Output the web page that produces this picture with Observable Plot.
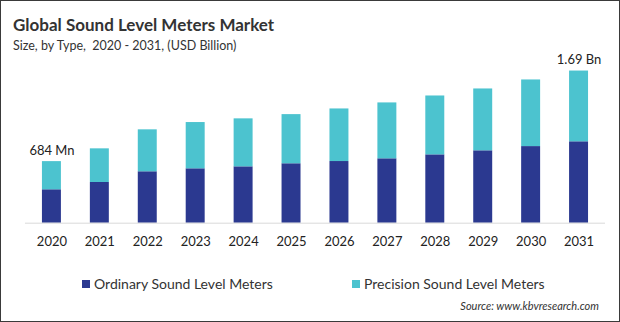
<!DOCTYPE html>
<html>
<head>
<meta charset="utf-8">
<script src="https://cdn.jsdelivr.net/npm/d3@7"></script>
<script src="https://cdn.jsdelivr.net/npm/@observablehq/plot@0.6"></script>
<style>
  html, body { margin: 0; padding: 0; background: #fff; }
  #frame { position: relative; width: 618px; height: 320px; border: 1px solid #3a3a3a; overflow: hidden; font-family: Lato, "Open Sans", sans-serif; color: #333; }
  #title { position: absolute; left: 12px; top: 13px; font-size: 17px; font-weight: bold; color: #333; white-space: nowrap; }
  #subtitle { position: absolute; left: 12px; top: 37px; font-size: 12.5px; color: #333; white-space: nowrap; }
  #chart { position: absolute; left: -1px; top: 39px; }
  #chart svg { overflow: visible; }
  .leg { position: absolute; top: 274px; font-size: 14px; color: #333; white-space: nowrap; display: flex; align-items: center; }
  .sw { width: 8px; height: 8px; display: inline-block; margin-right: 4px; }
  #source { position: absolute; right: 20px; top: 298px; font-size: 11px; font-style: italic; color: #333; }
</style>
</head>
<body>
<div id="frame">
  <div id="title">Global Sound Level Meters Market</div>
  <div id="subtitle">Size, by Type,&nbsp; 2020 - 2031, (USD Billion)</div>
  <div id="chart"></div>
  <div class="leg" style="left:81px"><span class="sw" style="background:#2b3990"></span>Ordinary Sound Level Meters</div>
  <div class="leg" style="left:351px"><span class="sw" style="background:#4cc3cf"></span>Precision Sound Level Meters</div>
  <div id="source">Source: www.kbvresearch.com</div>
</div>
<script>
const years = ["2020","2021","2022","2023","2024","2025","2026","2027","2028","2029","2030","2031"];
const ordinary  = [0.371,0.452,0.571,0.604,0.626,0.660,0.685,0.715,0.759,0.804,0.851,0.904];
const precision = [0.313,0.374,0.466,0.514,0.533,0.546,0.584,0.621,0.654,0.687,0.740,0.786];
const seriesNames = ["Ordinary Sound Level Meters","Precision Sound Level Meters"];
const seriesColors = ["#2b3990","#4cc3cf"];
const endLabels = ["684 Mn","","","","","","","","","","","1.69 Bn"];

const rows = [];
years.forEach((y,i) => rows.push({year:y, type:seriesNames[0], value:ordinary[i]}));
years.forEach((y,i) => rows.push({year:y, type:seriesNames[1], value:precision[i]}));
const totals = years.map((y,i) => ({year:y, total:ordinary[i]+precision[i], label:endLabels[i]})).filter(d => d.label);

const chart = Plot.plot({
  width: 620,
  height: 220,
  marginLeft: 25,
  marginRight: 14,
  marginTop: 25,
  marginBottom: 37,
  style: {fontFamily: "Lato, 'Open Sans', sans-serif", fontSize: "13px", color: "#222", background: "transparent", overflow: "visible"},
  x: {domain: years, paddingInner: 0.6, paddingOuter: 0.3, label: null, tickSize: 0, tickPadding: 14},
  y: {domain: [0, 1.752], axis: null},
  color: {domain: seriesNames, range: seriesColors},
  marks: [
    Plot.barY(rows, {x: "year", y: "value", fill: "type", order: null}),
    Plot.ruleY([0], {stroke: "#d9d9d9", strokeWidth: 1}),
    Plot.text(totals, {x: "year", y: "total", text: "label", dy: -11, fontSize: 13, fill: "#222"})
  ]
});
document.getElementById("chart").appendChild(chart);
</script>
</body>
</html>
